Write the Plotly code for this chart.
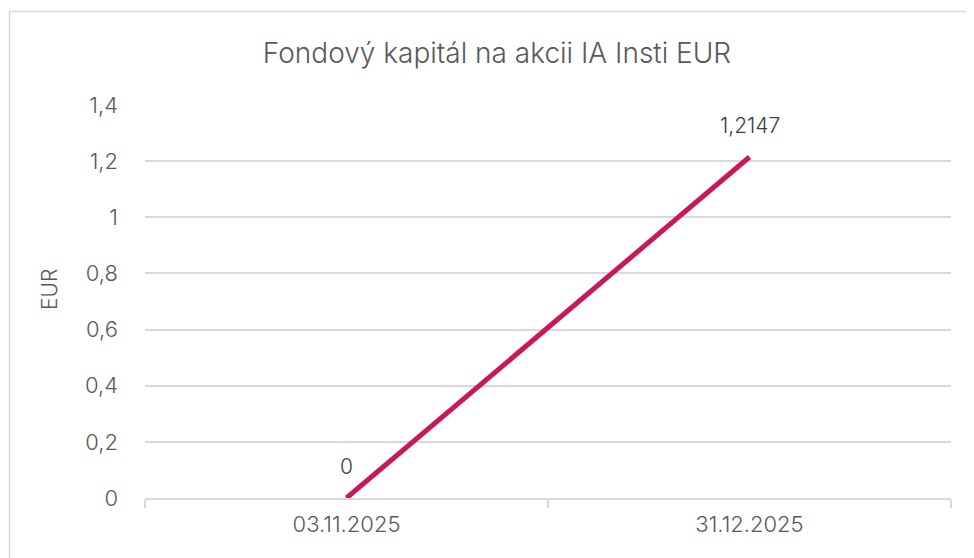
import plotly.graph_objects as go

categories = ["03.11.2025", "31.12.2025"]
values = [0, 1.2147]
value_labels = ["0", "1,2147"]
y_ticks = [0, 0.2, 0.4, 0.6, 0.8, 1.0, 1.2, 1.4]
y_tick_labels = ["0", "0,2", "0,4", "0,6", "0,8", "1", "1,2", "1,4"]

FONT = "Inter"
TXT = "#595959"
GRID = "#d9d9d9"

# page body has an 8px offset; positions below are in figure coords
OFF = 8
W, H = 974, 558
ml, mr, mt, mb = 145 - OFF, W - (951 - OFF), 105 - OFF, H - (498 - OFF)
pw, ph = W - ml - mr, H - mt - mb

def px(xc):
    return (xc - OFF - ml) / pw

def py(yc):
    return (H - mb - (yc - OFF)) / ph

fig = go.Figure()
fig.add_trace(go.Scatter(
    x=categories, y=values, mode="lines",
    line=dict(color="#C8185A", width=5),
    hoverinfo="skip", showlegend=False,
))

for c, v, t in zip(categories, values, value_labels):
    fig.add_annotation(x=c, y=v, text=t, showarrow=False, yshift=32,
                       font=dict(family=FONT, size=21, weight=300, color="#404040"))

# outer chart border (cropped on right and bottom)
fig.add_shape(type="rect", xref="paper", yref="paper",
              x0=px(9.5), x1=px(1010), y0=py(620), y1=py(11.5),
              line=dict(color="#d9d9d9", width=1.5), layer="below")

fig.add_annotation(xref="paper", yref="paper", x=px(49), y=py(290),
                   xanchor="center", yanchor="middle",
                   text="EUR", textangle=-90, showarrow=False,
                   font=dict(family=FONT, size=21, weight=300, color=TXT))

fig.update_layout(
    width=W, height=H,
    margin=dict(l=ml, r=mr, t=mt, b=mb),
    paper_bgcolor="white", plot_bgcolor="white",
    title=dict(text="Fondový kapitál na akcii IA Insti EUR",
               x=(497 - OFF) / W, xanchor="center",
               y=1 - (53 - OFF) / H, yanchor="middle",
               font=dict(family=FONT, size=28, weight=300, color=TXT)),
    font=dict(family=FONT, color=TXT),
)
fig.update_xaxes(
    type="category", range=[-0.5, 1.5],
    showgrid=False, showline=True, linecolor=GRID, linewidth=1.5,
    ticks="outside", tickson="boundaries", ticklen=8, tickcolor=GRID,
    tickwidth=1.5,
    tickfont=dict(family=FONT, size=22, weight=300, color=TXT),
    ticklabelstandoff=6,
    zeroline=False, fixedrange=True,
)
fig.update_yaxes(
    range=[0, 1.4], tickvals=y_ticks, ticktext=y_tick_labels,
    showgrid=True, gridcolor=GRID, gridwidth=1.5,
    zeroline=False, showline=False,
    tickfont=dict(family=FONT, size=22, weight=300, color=TXT),
    ticklabelstandoff=26, fixedrange=True,
)

fig.write_html("out.html")
